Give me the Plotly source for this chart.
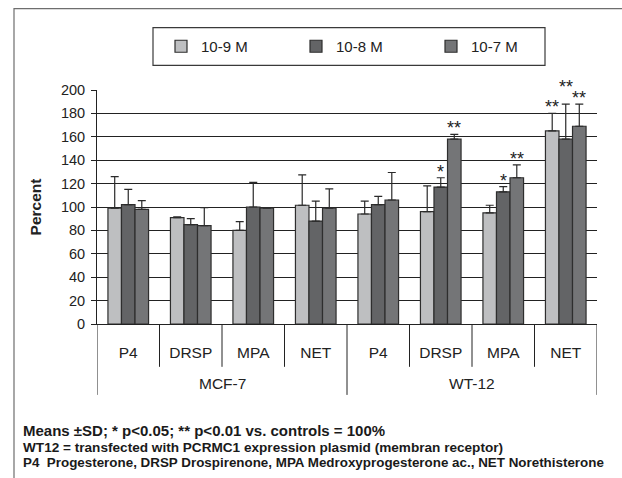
import plotly.graph_objects as go

# ---- data -------------------------------------------------------------
cell_lines = ["MCF-7", "WT-12"]
drugs = ["P4", "DRSP", "MPA", "NET"]
doses = ["10-9 M", "10-8 M", "10-7 M"]

# mean percent of control, per dose, in order MCF-7 (P4..NET), WT-12 (P4..NET)
mean_1e9 = [99, 91, 80, 101.5, 94, 96, 95, 165]
mean_1e8 = [102, 85, 100, 88, 102, 117, 113, 158]
mean_1e7 = [98, 84, 99, 99, 106, 158, 125, 169]

# standard deviations (upper bars only)
sd_1e9 = [27, 0.5, 7.5, 26, 11, 22, 6.5, 15]
sd_1e8 = [13, 5, 21, 17, 7, 8, 4.5, 30]
sd_1e7 = [7.5, 15.5, 0.5, 16.5, 23.5, 4, 11, 19]

# significance marks
sig_1e9 = ["", "", "", "", "", "", "", "**"]
sig_1e8 = ["", "", "", "", "", "*", "*", "**"]
sig_1e7 = ["", "", "", "", "", "**", "**", "**"]

y_ticks = [0, 20, 40, 60, 80, 100, 120, 140, 160, 180, 200]

# ---- figure -----------------------------------------------------------
FONT = "Liberation Sans, Arial, sans-serif"
colors = ["#bebfc1", "#636466", "#747577"]
means = [mean_1e9, mean_1e8, mean_1e7]
sds = [sd_1e9, sd_1e8, sd_1e7]
sigs = [sig_1e9, sig_1e8, sig_1e7]

keys = [f"{c} {d}" for c in cell_lines for d in drugs]
labels = [d for c in cell_lines for d in drugs]

fig = go.Figure()
for name, m, s, col in zip(doses, means, sds, colors):
    fig.add_trace(go.Bar(
        x=keys, y=m, name=name,
        marker=dict(color=col, line=dict(color="#2e2e2e", width=1.2)),
        error_y=dict(type="data", array=s, arrayminus=[0] * len(s),
                     symmetric=False, color="#2a2a2a", thickness=1.2, width=4),
    ))

BARGAP = 0.35
n_series = len(doses)
bar_w = (1 - BARGAP) / n_series

# significance asterisks above the error bars
lift = {(7, 1): 11}
for j, (m, s, sg) in enumerate(zip(means, sds, sigs)):
    for i, mark in enumerate(sg):
        if not mark:
            continue
        fig.add_annotation(
            x=i + (j - (n_series - 1) / 2) * bar_w, y=m[i] + s[i],
            xref="x", yref="y", text=mark, showarrow=False,
            yanchor="bottom", yshift=-6 + lift.get((i, j), 0),
            font=dict(family=FONT, size=18, color="#222222"),
        )

# hierarchical category axis: short dividers between drugs, long ones between cell lines
shapes = []
n_cat = len(keys)
for b in range(n_cat + 1):
    long_div = b % len(drugs) == 0
    shapes.append(dict(
        type="line", xref="x", yref="paper",
        x0=b - 0.5, x1=b - 0.5, y0=0, y1=-0.303 if long_div else -0.183,
        line=dict(color="#222222", width=1),
    ))

for k, c in enumerate(cell_lines):
    fig.add_annotation(
        x=k * len(drugs) + (len(drugs) - 1) / 2, y=-0.253, xref="x", yref="paper",
        text=c, showarrow=False, yanchor="middle",
        font=dict(family=FONT, size=15.5, color="#222222"),
    )

# outer frame
shapes.append(dict(type="rect", xref="paper", yref="paper",
                   x0=-0.166, x1=1.2, y0=-1.0, y1=1.3476,
                   line=dict(color="#6e6e6e", width=1.2), layer="below"))
# legend box
shapes.append(dict(type="rect", xref="paper", yref="paper",
                   x0=0.112, x1=0.896, y0=1.1055, y1=1.2665,
                   line=dict(color="#3a3a3a", width=1.2)))

notes = [
    ("Means ±SD; * p<0.05; ** p<0.01 vs. controls = 100%", 15, -0.457),
    ("WT12 = transfected with PCRMC1 expression plasmid (membran receptor)", 13.6, -0.527),
    ("P4  Progesterone, DRSP Drospirenone, MPA Medroxyprogesterone ac., NET Norethisterone", 13.4, -0.591),
]
for txt, size, yp in notes:
    fig.add_annotation(
        x=-0.152, y=yp, xref="paper", yref="paper", text=f"<b>{txt}</b>",
        showarrow=False, xanchor="left", yanchor="middle",
        font=dict(family=FONT, size=size, color="#1a1a1a"),
    )

fig.update_layout(
    width=622, height=478,
    margin=dict(l=97, r=25, t=89.5, b=154, pad=0),
    paper_bgcolor="white", plot_bgcolor="white",
    barmode="group", bargap=BARGAP, bargroupgap=0,
    font=dict(family=FONT, size=14, color="#222222"),
    showlegend=True,
    legend=dict(orientation="h", x=0.128, y=1.186, xanchor="left", yanchor="middle",
                bgcolor="rgba(0,0,0,0)", borderwidth=0, entrywidth=90,
                itemwidth=30, font=dict(family=FONT, size=15, color="#222222")),
    shapes=shapes,
    xaxis=dict(type="category", tickmode="array", tickvals=keys, ticktext=labels,
               showline=True, linecolor="#222222", linewidth=1,
               ticks="", showgrid=False, tickfont=dict(size=15.5),
               ticklabelstandoff=14, range=[-0.5, n_cat - 0.5]),
    yaxis=dict(range=[0, 200], tickvals=y_ticks, showgrid=True, gridcolor="#222222",
               gridwidth=1, showline=True, linecolor="#222222", linewidth=1,
               ticks="outside", ticklen=5, tickcolor="#222222",
               ticklabelstandoff=3, zeroline=False, tickfont=dict(size=14.5),
               title=dict(text="<b>Percent</b>", standoff=15,
                          font=dict(family=FONT, size=15.5))),
)

fig.write_html("out.html")
